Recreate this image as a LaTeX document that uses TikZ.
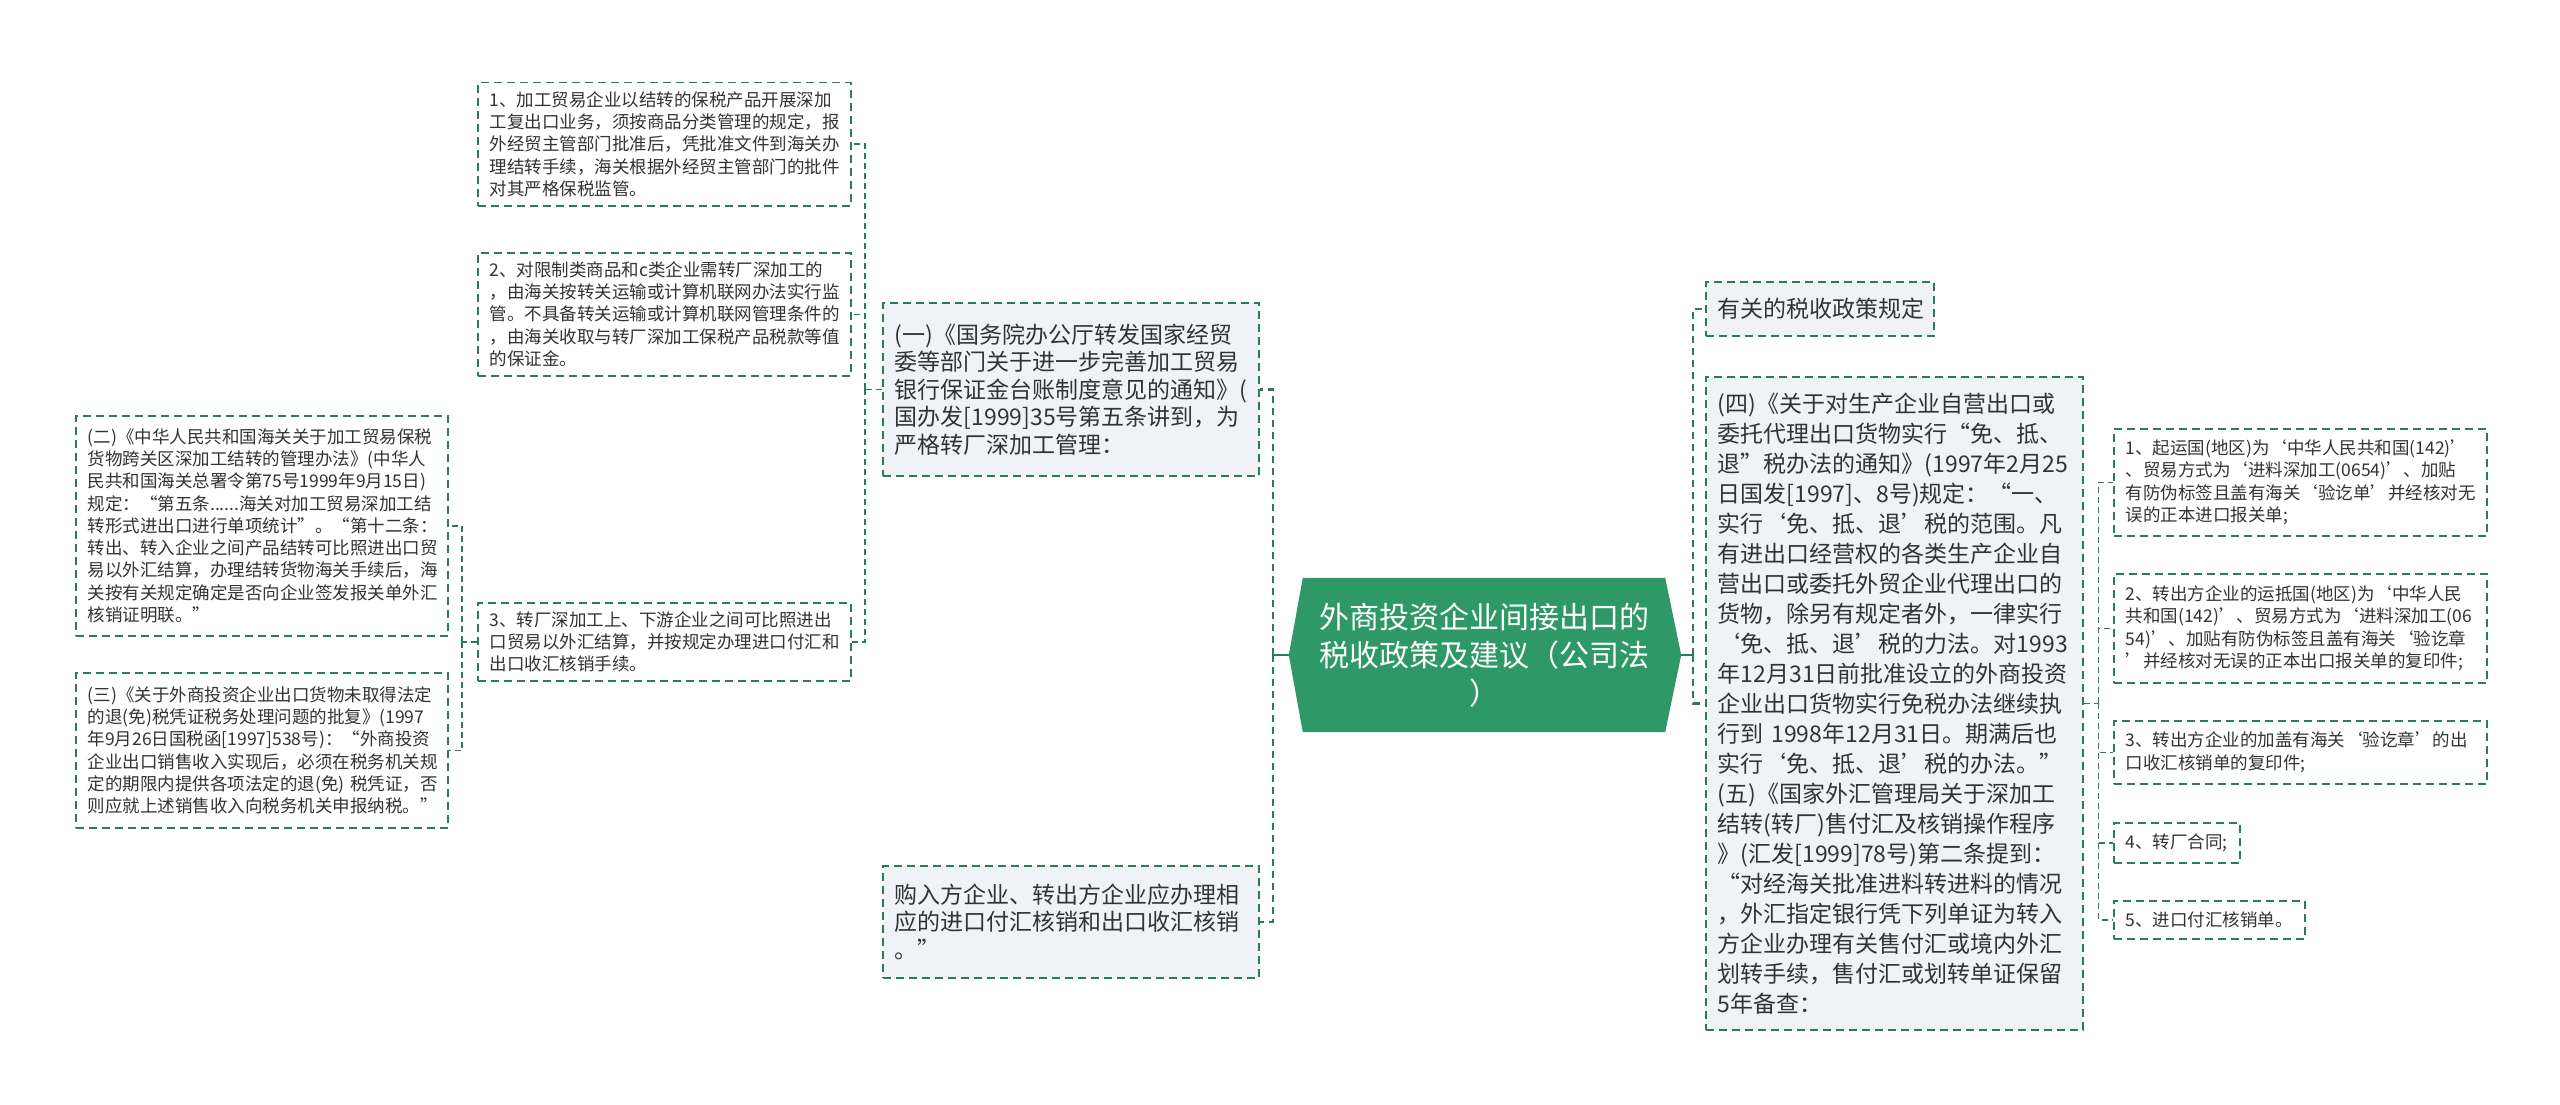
\documentclass[tikz,border=0pt]{standalone}
\usepackage{fontspec}
\setmainfont{Noto Sans CJK SC}
\usetikzlibrary{backgrounds}
\definecolor{rootgreen}{RGB}{46,153,102}
\definecolor{linegreen}{RGB}{38,125,88}
\definecolor{boxfill}{RGB}{240,243,246}
\definecolor{textgray}{RGB}{51,51,51}
\tikzset{
	box/.style={draw=linegreen, line width=1.5pt, dash pattern=on 8pt off 5pt, fill=white,
		text=textgray, align=left, anchor=north west, inner xsep=12pt, inner ysep=0pt,
		font=\fontsize{17.5}{22.3}\selectfont},
	mainbox/.style={box, fill=boxfill, font=\fontsize{23}{27.5}\selectfont},
	roottext/.style={text=white, align=center, inner sep=0pt, minimum width=362pt,
		minimum height=154pt, font=\fontsize{30}{38}\selectfont},
	link/.style={draw=linegreen, line width=1.5pt, dash pattern=on 6pt off 4pt},
	rootlink/.style={link, line width=2.5pt, dash pattern=on 7pt off 5pt},
	stub/.style={draw=linegreen, line width=2.5pt},
}

\begin{document}
\begin{tikzpicture}[x=1pt, y=-1pt]
	\useasboundingbox (0,0) rectangle (2560,1105);

	% root
	\node[roottext] (root) at (1484,655) {外商投资企业间接出口的\\税收政策及建议（公司法\\）};
	\begin{scope}[on background layer]
		\fill[rootgreen] ([xshift=-14pt]root.west) -- (root.north west) -- (root.north east)
			-- ([xshift=16pt]root.east) -- (root.south east) -- (root.south west) -- cycle;
	\end{scope}

	% left side
	\node[mainbox, text width=352pt, minimum height=173pt] (a) at (882,302) {(一)《国务院办公厅转发国家经贸\\委等部门关于进一步完善加工贸易\\银行保证金台账制度意见的通知》(\\国办发[1999]35号第五条讲到，为\\严格转厂深加工管理：};
	\node[mainbox, text width=352pt, minimum height=112pt] (b) at (882,865) {购入方企业、转出方企业应办理相\\应的进口付汇核销和出口收汇核销\\。”};

	\node[box, text width=349pt, minimum height=123pt] (c1) at (477,82) {1、加工贸易企业以结转的保税产品开展深加\\工复出口业务，须按商品分类管理的规定，报\\外经贸主管部门批准后，凭批准文件到海关办\\理结转手续，海关根据外经贸主管部门的批件\\对其严格保税监管。};
	\node[box, text width=349pt, minimum height=123pt] (c2) at (477,252) {2、对限制类商品和c类企业需转厂深加工的\\，由海关按转关运输或计算机联网办法实行监\\管。不具备转关运输或计算机联网管理条件的\\，由海关收取与转厂深加工保税产品税款等值\\的保证金。};
	\node[box, text width=349pt, minimum height=78pt] (c3) at (477,602) {3、转厂深加工上、下游企业之间可比照进出\\口贸易以外汇结算，并按规定办理进口付汇和\\出口收汇核销手续。};

	\node[box, text width=348pt, minimum height=220pt] (d1) at (75,415) {(二)《中华人民共和国海关关于加工贸易保税\\货物跨关区深加工结转的管理办法》(中华人\\民共和国海关总署令第75号1999年9月15日)\\规定：“第五条......海关对加工贸易深加工结\\转形式进出口进行单项统计”。“第十二条：\\转出、转入企业之间产品结转可比照进出口贸\\易以外汇结算，办理结转货物海关手续后，海\\关按有关规定确定是否向企业签发报关单外汇\\核销证明联。”};
	\node[box, text width=348pt, minimum height=155pt] (d2) at (75,672) {(三)《关于外商投资企业出口货物未取得法定\\的退(免)税凭证税务处理问题的批复》(1997\\年9月26日国税函[1997]538号)：“外商投资\\企业出口销售收入实现后，必须在税务机关规\\定的期限内提供各项法定的退(免)~税凭证，否\\则应就上述销售收入向税务机关申报纳税。”};

	% right side
	\node[mainbox, text width=204pt, minimum height=54pt] (e1) at (1705,281) {有关的税收政策规定};
	\node[mainbox, text width=353pt, minimum height=653pt, font=\fontsize{23}{30}\selectfont] (e2) at (1705,376) {(四)《关于对生产企业自营出口或\\委托代理出口货物实行“免、抵、\\退”税办法的通知》(1997年2月25\\日国发[1997]、8号)规定：“一、\\实行‘免、抵、退’税的范围。凡\\有进出口经营权的各类生产企业自\\营出口或委托外贸企业代理出口的\\货物，除另有规定者外，一律实行\\‘免、抵、退’税的力法。对1993\\年12月31日前批准设立的外商投资\\企业出口货物实行免税办法继续执\\行到~1998年12月31日。期满后也\\实行‘免、抵、退’税的办法。”\\(五)《国家外汇管理局关于深加工\\结转(转厂)售付汇及核销操作程序\\》(汇发[1999]78号)第二条提到：\\“对经海关批准进料转进料的情况\\，外汇指定银行凭下列单证为转入\\方企业办理有关售付汇或境内外汇\\划转手续，售付汇或划转单证保留\\5年备查：};

	\node[box, text width=349pt, minimum height=107pt] (f1) at (2113,428) {1、起运国(地区)为‘中华人民共和国(142)’\\、贸易方式为‘进料深加工(0654)’、加贴\\有防伪标签且盖有海关‘验讫单’并经核对无\\误的正本进口报关单;};
	\node[box, text width=349pt, minimum height=109pt] (f2) at (2113,573) {2、转出方企业的运抵国(地区)为‘中华人民\\共和国(142)’、贸易方式为‘进料深加工(06\\54)’、加贴有防伪标签且盖有海关‘验讫章\\’并经核对无误的正本出口报关单的复印件;};
	\node[box, text width=349pt, minimum height=63pt] (f3) at (2113,720) {3、转出方企业的加盖有海关‘验讫章’的出\\口收汇核销单的复印件;};
	\node[box, minimum height=40pt] (f4) at (2113,822) {4、转厂合同;};
	\node[box, minimum height=38pt] (f5) at (2113,900) {5、进口付汇核销单。};

	% connectors
	\coordinate (lj) at (1273,655);
	\coordinate (rj) at (1693,655);
	\draw[stub] ([xshift=-14pt]root.west) -- (lj);
	\draw[stub] ([xshift=16pt]root.east) -- (rj);
	\foreach \n in {a,b} \draw[rootlink] (lj) |- (\n.east);
	\foreach \n in {e1,e2} \draw[rootlink] (rj) |- (\n.west);

	\coordinate (aj) at ([xshift=-17pt]a.west);
	\draw[link] (a.west) -- (aj);
	\foreach \n in {c1,c2,c3} \draw[link] (aj) |- (\n.east);

	\coordinate (cj) at ([xshift=-15pt]c3.west);
	\draw[link] (c3.west) -- (cj);
	\foreach \n in {d1,d2} \draw[link] (cj) |- (\n.east);

	\coordinate (ej) at ([xshift=15pt]e2.east);
	\draw[link] (e2.east) -- (ej);
	\foreach \n in {f1,f2,f3,f4,f5} \draw[link] (ej) |- (\n.west);
\end{tikzpicture}
\end{document}
